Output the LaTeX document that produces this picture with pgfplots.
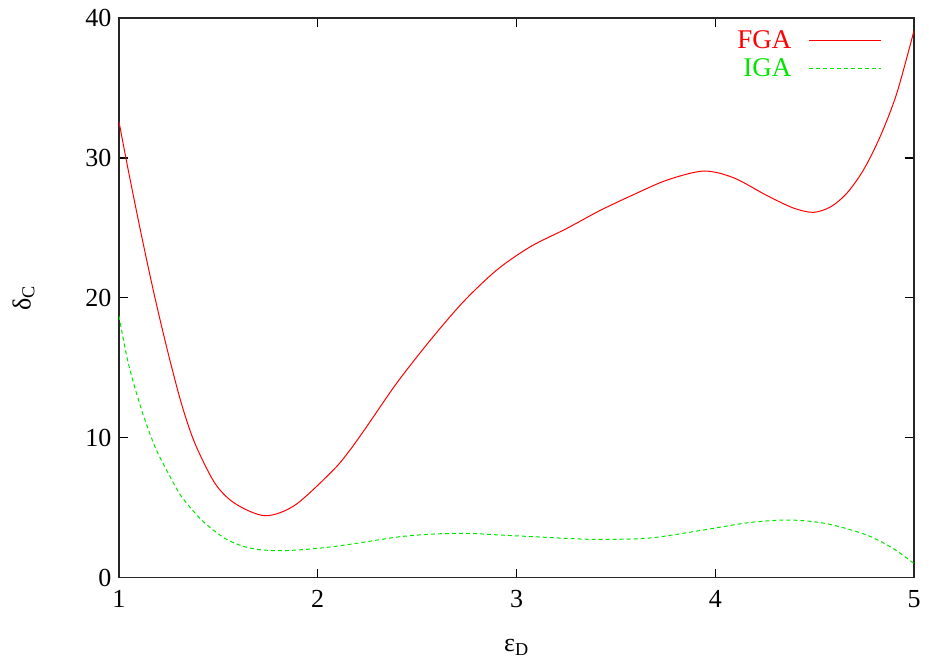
\documentclass[border=0pt]{standalone}
\usepackage{fontspec}
\setmainfont{Liberation Serif}
\usepackage{pgfplots}
\pgfplotsset{compat=1.18}
\definecolor{fgared}{RGB}{255,0,0}
\definecolor{igagreen}{RGB}{0,230,0}
\begin{document}
\begin{tikzpicture}
\begin{axis}[
  scale only axis,
  width=795pt, height=559.7pt,
  xmin=1, xmax=5, ymin=0, ymax=40,
  xtick={1,2,3,4,5}, ytick={0,10,20,30,40},
  /pgf/number format/assume math mode=true,
  font=\fontsize{26}{30}\selectfont,
  tick style={black, line width=1.2pt},
  major tick length=9pt,
  axis line style={black!85, line width=1.4pt},
  xticklabel style={anchor=north, yshift=-9pt},
  yticklabel style={anchor=east, xshift=-4pt},
  xlabel={ε\textsubscript{D}},
  ylabel={δ\textsubscript{C}},
  xlabel style={at={(axis description cs:0.5,-0.124)}, anchor=center},
  ylabel style={at={(axis description cs:-0.12,0.5)}, anchor=center},
  legend style={draw=none, fill=none, at={(0.9597,0.977)}, anchor=north east,
    inner sep=0pt, row sep=8pt, font=\fontsize{27}{30}\selectfont,
    nodes={inner sep=0pt}},
  legend cell align=right,
  legend plot pos=right,
]
\addplot[fgared, line width=1pt, smooth, tension=0.5,
  legend image code/.code={\path[draw=none, fill=none] (0pt,-6pt) rectangle (90pt,6pt);
    \draw[fgared, line width=1pt] (18pt,0pt) -- (90pt,0pt);}] coordinates {
(1.000,32.57) (1.047,29.10) (1.114,24.40) (1.181,20.00) (1.248,16.00)
(1.315,12.40) (1.382,9.60) (1.483,6.74) (1.584,5.30) (1.735,4.43)
(1.886,5.19) (2.078,7.69) (2.162,9.12) (2.246,10.79) (2.397,13.90)
(2.565,16.95) (2.732,19.71) (2.900,21.98) (3.068,23.64) (3.253,24.96)
(3.420,26.24) (3.588,27.37) (3.756,28.41) (3.940,29.06) (4.091,28.59)
(4.259,27.32) (4.393,26.42) (4.493,26.11) (4.580,26.50) (4.661,27.46)
(4.745,29.12) (4.829,31.50) (4.913,34.60) (5.000,39.10)
};
\addlegendentry{\textcolor{fgared}{FGA}}
\addplot[igagreen, line width=1pt, smooth, tension=0.5, dash pattern=on 4pt off 3pt,
  legend image code/.code={\path[draw=none, fill=none] (0pt,-6pt) rectangle (90pt,6pt);
    \draw[igagreen, line width=1pt, dash pattern=on 4pt off 3pt] (18pt,0pt) -- (90pt,0pt);}] coordinates {
(1.000,18.70) (1.047,15.31) (1.114,11.98) (1.181,9.36) (1.248,7.46)
(1.315,5.79) (1.416,4.12) (1.533,2.81) (1.651,2.14) (1.785,1.93)
(1.919,2.00) (2.078,2.22) (2.246,2.57) (2.414,2.93) (2.581,3.12)
(2.749,3.17) (2.917,3.05) (3.085,2.93) (3.253,2.81) (3.420,2.73)
(3.672,2.84) (3.920,3.36) (4.172,3.94) (4.376,4.12) (4.561,3.86)
(4.762,3.05) (4.896,2.08) (5.000,1.01)
};
\addlegendentry{\textcolor{igagreen}{IGA}}
\end{axis}
\pgfresetboundingbox
\path[use as bounding box] (-119pt,-88.3pt) rectangle (810pt,577.7pt);
\end{tikzpicture}
\end{document}
